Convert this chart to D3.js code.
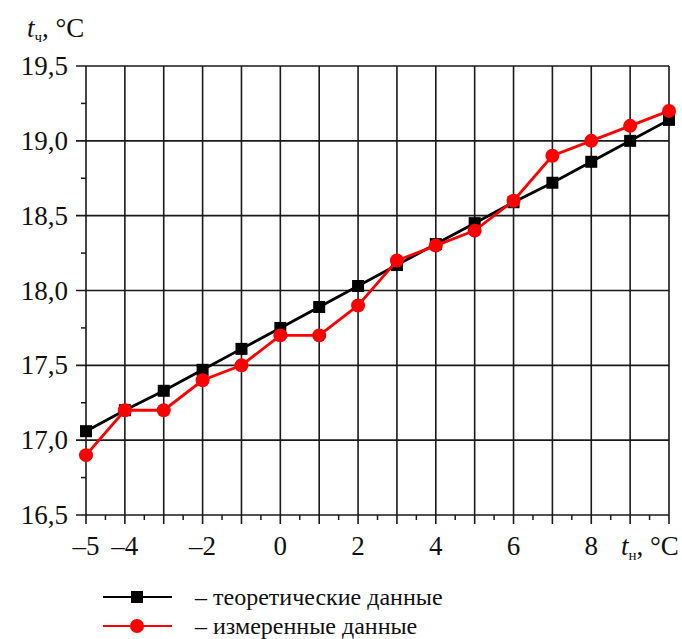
<!DOCTYPE html>
<html>
<head>
<meta charset="utf-8">
<script src="https://cdn.jsdelivr.net/npm/d3@7"></script>
</head>
<body style="margin:0">
<svg id="chart" width="682" height="639"></svg>
<script>
// Outdoor temperature, °C
const outdoorTemp = [-5, -4, -3, -2, -1, 0, 1, 2, 3, 4, 5, 6, 7, 8, 9, 10];
// Theoretical indoor temperature, °C
const theoretical = [17.06, 17.2, 17.33, 17.47, 17.61, 17.75, 17.89, 18.03, 18.17, 18.31, 18.45, 18.59, 18.72, 18.86, 19.0, 19.14];
// Measured indoor temperature, °C
const measured = [16.9, 17.2, 17.2, 17.4, 17.5, 17.7, 17.7, 17.9, 18.2, 18.3, 18.4, 18.6, 18.9, 19.0, 19.1, 19.2];

const xTickLabels = [-5, -4, -2, 0, 2, 4, 6, 8];
const yTickLabels = [16.5, 17.0, 17.5, 18.0, 18.5, 19.0, 19.5];
const legendLabels = ["– теоретические данные", "– измеренные данные"];

const FONT = '"Liberation Serif", "Times New Roman", Tinos, monospace';

const svg = d3.select("#chart").style("display", "block");
const plot = { left: 86, right: 669, top: 66, bottom: 515 };

const x = d3.scaleLinear().domain([-5, 10]).range([plot.left, plot.right]);
const y = d3.scaleLinear().domain([16.5, 19.5]).range([plot.bottom, plot.top]);

const fmtY = v => d3.format(".1f")(v).replace(".", ",");
const fmtX = v => (v < 0 ? "\u2013" + Math.abs(v) : String(v));

const gridColor = "#1a1a1a";
const textColor = "#111";

// vertical grid lines at every integer
svg.append("g").selectAll("line")
  .data(d3.range(-5, 11))
  .join("line")
  .attr("x1", d => x(d)).attr("x2", d => x(d))
  .attr("y1", plot.top).attr("y2", plot.bottom + 9)
  .attr("stroke", gridColor).attr("stroke-width", 1.6);

// horizontal grid lines every 0.5
svg.append("g").selectAll("line")
  .data(yTickLabels)
  .join("line")
  .attr("x1", plot.left - 10).attr("x2", plot.right)
  .attr("y1", d => y(d)).attr("y2", d => y(d))
  .attr("stroke", gridColor).attr("stroke-width", 1.6);

// minor ticks on the x axis
svg.append("g").selectAll("line")
  .data(d3.range(-4.5, 10, 1))
  .join("line")
  .attr("x1", d => x(d)).attr("x2", d => x(d))
  .attr("y1", plot.bottom).attr("y2", plot.bottom + 5)
  .attr("stroke", gridColor).attr("stroke-width", 1.5);

// minor ticks on the y axis
svg.append("g").selectAll("line")
  .data(d3.range(16.75, 19.5, 0.5))
  .join("line")
  .attr("x1", plot.left - 5).attr("x2", plot.left)
  .attr("y1", d => y(d)).attr("y2", d => y(d))
  .attr("stroke", gridColor).attr("stroke-width", 1.5);

// y tick labels
svg.append("g").selectAll("text")
  .data(yTickLabels)
  .join("text")
  .attr("x", plot.left - 18).attr("y", d => y(d) + 9)
  .attr("text-anchor", "end")
  .attr("font-size", 27)
  .style("font-family", FONT)
  .attr("fill", textColor)
  .text(fmtY);

// x tick labels
svg.append("g").selectAll("text")
  .data(xTickLabels)
  .join("text")
  .attr("x", d => x(d)).attr("y", plot.bottom + 40)
  .attr("text-anchor", "middle")
  .attr("font-size", 27)
  .style("font-family", FONT)
  .attr("fill", textColor)
  .text(fmtX);

// axis titles: italic t with a Cyrillic subscript
function axisTitle(px, py, sub) {
  const t = svg.append("text").attr("x", px).attr("y", py)
    .attr("font-size", 27).style("font-family", FONT).attr("fill", textColor);
  t.append("tspan").style("font-style", "italic").text("t");
  t.append("tspan").attr("font-size", 15).attr("dy", 5).text(sub);
  t.append("tspan").attr("dy", -5).text(", °C");
}
axisTitle(27, 37, "ч");
axisTitle(621, plot.bottom + 40, "н");

const line = d3.line().x(d => x(d[0])).y(d => y(d[1]));
const theoPts = outdoorTemp.map((t, i) => [t, theoretical[i]]);
const measPts = outdoorTemp.map((t, i) => [t, measured[i]]);

// theoretical series
svg.append("path").datum(theoPts)
  .attr("d", line).attr("fill", "none")
  .attr("stroke", "#000").attr("stroke-width", 2.8);
svg.append("g").selectAll("rect")
  .data(theoPts).join("rect")
  .attr("x", d => x(d[0]) - 6).attr("y", d => y(d[1]) - 6)
  .attr("width", 12).attr("height", 12).attr("fill", "#000");

// measured series
svg.append("path").datum(measPts)
  .attr("d", line).attr("fill", "none")
  .attr("stroke", "#ff0000").attr("stroke-width", 2.8);
svg.append("g").selectAll("circle")
  .data(measPts).join("circle")
  .attr("cx", d => x(d[0])).attr("cy", d => y(d[1]))
  .attr("r", 7).attr("fill", "#ff0000");

// legend
const legend = svg.append("g");
const legendItems = [
  { color: "#000", marker: "square", label: legendLabels[0], y: 597 },
  { color: "#ff0000", marker: "circle", label: legendLabels[1], y: 626 }
];
legendItems.forEach(it => {
  legend.append("line")
    .attr("x1", 103).attr("x2", 172)
    .attr("y1", it.y).attr("y2", it.y)
    .attr("stroke", it.color).attr("stroke-width", 2.2);
  if (it.marker === "square") {
    legend.append("rect").attr("x", 131).attr("y", it.y - 6)
      .attr("width", 12).attr("height", 12).attr("fill", it.color);
  } else {
    legend.append("circle").attr("cx", 137).attr("cy", it.y)
      .attr("r", 7).attr("fill", it.color);
  }
  legend.append("text")
    .attr("x", 195).attr("y", it.y + 8)
    .attr("font-size", 24)
    .style("font-family", FONT)
    .attr("fill", textColor)
    .text(it.label);
});
</script>
</body>
</html>
